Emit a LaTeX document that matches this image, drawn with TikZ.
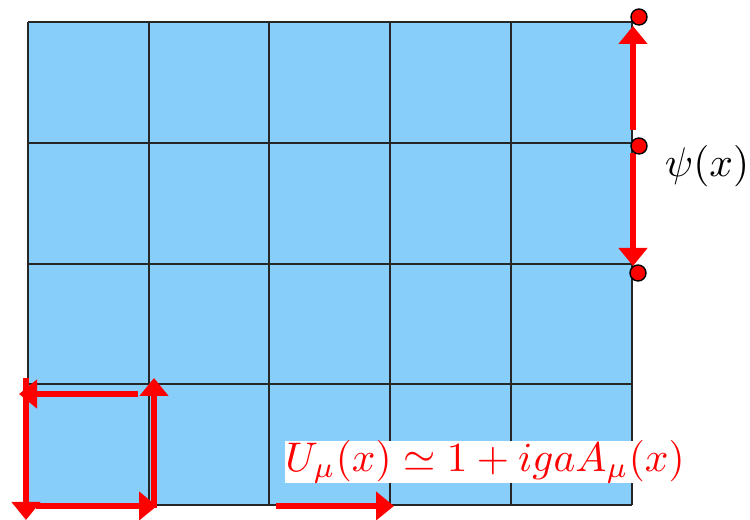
\documentclass[tikz,border=0pt]{standalone}
\usetikzlibrary{arrows.meta}
\definecolor{cellblue}{RGB}{135,206,250}
\newcommand{\bigtxt}[1]{\scalebox{1.035}{#1}}
\begin{document}
\begin{tikzpicture}[x=0.25pt,y=-0.25pt,
  gridline/.style={line width=0.36pt,draw=black!85},
  link/.style={draw=red,line width=1.3pt,-{Triangle[length=4.5pt,width=7pt]}},
  site/.style={circle,fill=red,draw=black,line width=0.35pt,minimum size=4pt,inner sep=0pt}]
\useasboundingbox (0,0) rectangle (750,520);
% lattice
\fill[cellblue] (28,22) rectangle (632,505);
\foreach \x in {28,149,269,390,511,632} \draw[gridline] (\x,22) -- (\x,505);
\foreach \y in {22,143,264,384,505} \draw[gridline] (28,\y) -- (632,\y);
% plaquette links
\coordinate (p1s) at (26,378); \coordinate (p1e) at (26,520);
\coordinate (p2s) at (138,394); \coordinate (p2e) at (19,394);
\coordinate (p3s) at (154,508); \coordinate (p3e) at (154,378);
\coordinate (p4s) at (36,506); \coordinate (p4e) at (157,506);
\draw[link] (p1s) -- (p1e);
\draw[link] (p2s) -- (p2e);
\draw[link] (p3s) -- (p3e);
\draw[link] (p4s) -- (p4e);
% single link
\coordinate (ls) at (276,506); \coordinate (le) at (394,506);
\draw[link] (ls) -- (le);
\node[fill=white,inner sep=0pt,text=red] (U) at (485,462) {\bigtxt{$U_\mu(x)\simeq 1+igaA_\mu(x)$}};
% fermion sites
\coordinate (a1) at (633,130); \coordinate (a2) at (633,26);
\coordinate (b1) at (633,153); \coordinate (b2) at (633,266);
\draw[link] (a1) -- (a2);
\draw[link] (b1) -- (b2);
\node[site] (s1) at (639,17) {};
\node[site] (s2) at (639,146) {};
\node[site] (s3) at (638,273) {};
\node (psi) at (707,166) {\bigtxt{$\psi(x)$}};
\end{tikzpicture}
\end{document}
